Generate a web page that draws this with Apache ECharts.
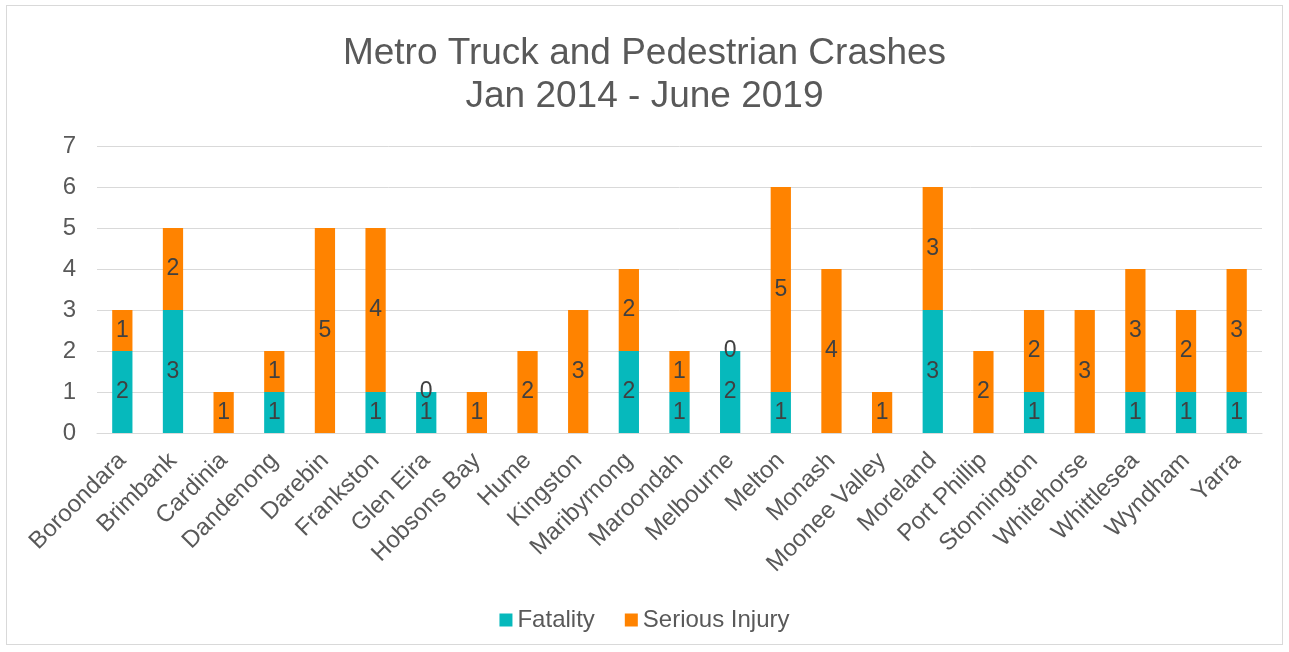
<!DOCTYPE html>
<html><head><meta charset="utf-8">
<script src="https://cdn.jsdelivr.net/npm/echarts@6/dist/echarts.min.js"></script>
<style>
html,body{margin:0;padding:0;background:#fff;}
#frame{position:absolute;left:6px;top:5px;width:1277px;height:640px;border:1px solid #d9d9d9;box-sizing:border-box;}
#c{position:absolute;left:0;top:0;width:1289px;height:652px;}
</style></head>
<body>
<div id="frame"></div>
<div id="c"></div>
<script>
const categories = ["Boroondara","Brimbank","Cardinia","Dandenong","Darebin","Frankston","Glen Eira","Hobsons Bay","Hume","Kingston","Maribyrnong","Maroondah","Melbourne","Melton","Monash","Moonee Valley","Moreland","Port Phillip","Stonnington","Whitehorse","Whittlesea","Wyndham","Yarra"];
const fatality = [2,3,null,1,null,1,1,null,null,null,2,1,2,1,null,null,3,null,1,null,1,1,1];
const seriousInjury = [1,2,1,1,5,4,0,1,2,3,2,1,0,5,4,1,3,2,2,3,3,2,3];
const yTicks = [0,1,2,3,4,5,6,7];

const chart = echarts.init(document.getElementById('c'));
const txt = '#595959';
const font = 'Liberation Sans, Arial, sans-serif';
const lbl = {show:true, position:'inside', color:'#404040', fontSize:23, fontFamily:font};
chart.setOption({
  animation:false,
  title:{text:'Metro Truck and Pedestrian Crashes\nJan 2014 - June 2019', left:'center', top:27,
    textStyle:{color:txt, fontSize:37, fontWeight:'normal', fontFamily:font, lineHeight:43}},
  legend:{top:603, left:'center', itemWidth:13, itemHeight:13, itemGap:30, icon:'rect',
    textStyle:{color:txt, fontSize:24, fontFamily:font}, data:['Fatality','Serious Injury']},
  grid:{left:97, right:27, top:146, bottom:219, containLabel:false},
  xAxis:{type:'category', data:categories,
    axisLine:{lineStyle:{color:'#d9d9d9', width:1}}, axisTick:{show:false},
    axisLabel:{rotate:45, interval:0, color:txt, fontSize:24, fontFamily:font, margin:24}},
  yAxis:{type:'value', min:yTicks[0], max:yTicks[yTicks.length-1], interval:1,
    axisLine:{show:false}, axisTick:{show:false},
    splitLine:{lineStyle:{color:'#d9d9d9', width:1}},
    axisLabel:{color:txt, fontSize:24, fontFamily:font, margin:21}},
  series:[
    {name:'Fatality', type:'bar', stack:'a', data:fatality, barWidth:'40%',
     itemStyle:{color:'#06B9BC'}, label:lbl},
    {name:'Serious Injury', type:'bar', stack:'a', data:seriousInjury, barWidth:'40%',
     itemStyle:{color:'#FF8300'}, label:lbl}
  ]
});
</script>
</body></html>
